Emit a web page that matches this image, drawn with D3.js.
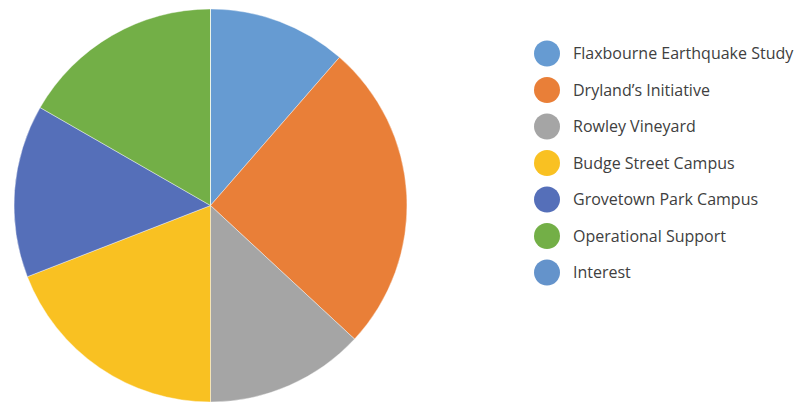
<!DOCTYPE html>
<html>
<head>
<meta charset="utf-8">
<script src="https://cdn.jsdelivr.net/npm/d3@7"></script>
<style>
  body { margin: 0; background: #fff; }
  text { font-family: "Open Sans", sans-serif; }
</style>
</head>
<body>
<div id="chart"></div>
<script>
// chart data (share of the total, %)
var categories = ["Flaxbourne Earthquake Study", "Dryland\u2019s Initiative", "Rowley Vineyard",
  "Budge Street Campus", "Grovetown Park Campus", "Operational Support", "Interest"];
var values = [11.4, 25.5, 13.1, 19.1, 14.2, 16.7, 0];
var colors = ["#669bd2", "#e97f38", "#a5a5a5", "#f9c122", "#556fb9", "#73af47", "#6493cb"];

var svgWidth = 798;
var svgHeight = 403;

var svg = d3.select("#chart")
  .append("svg")
  .attr("width", svgWidth)
  .attr("height", svgHeight);

var cx = 210.5, cy = 205.5, radius = 196.5;

var pieData = categories.map(function(c, i) {
  return { name: c, value: values[i], color: colors[i] };
});

var pie = d3.pie()
  .sort(null)
  .value(d => d.value);

var arc = d3.arc()
  .innerRadius(0)
  .outerRadius(radius);

var pieGroup = svg.append("g")
  .attr("transform", `translate(${cx}, ${cy})`);

pieGroup.selectAll("path")
  .data(pie(pieData))
  .enter()
  .append("path")
  .attr("d", arc)
  .attr("fill", d => d.data.color)
  .attr("stroke", "#fff")
  .attr("stroke-width", 0.4);

// legend
var legend = svg.append("g")
  .attr("transform", "translate(547, 53.5)");

var rows = legend.selectAll("g")
  .data(pieData)
  .enter()
  .append("g")
  .attr("transform", (d, i) => `translate(0, ${i * 36.5})`);

rows.append("circle")
  .attr("r", 13)
  .attr("fill", d => d.color);

rows.append("text")
  .attr("x", 26)
  .attr("dy", "0.35em")
  .attr("font-size", "16px")
  .attr("fill", "#404040")
  .text(d => d.name);
</script>
</body>
</html>
